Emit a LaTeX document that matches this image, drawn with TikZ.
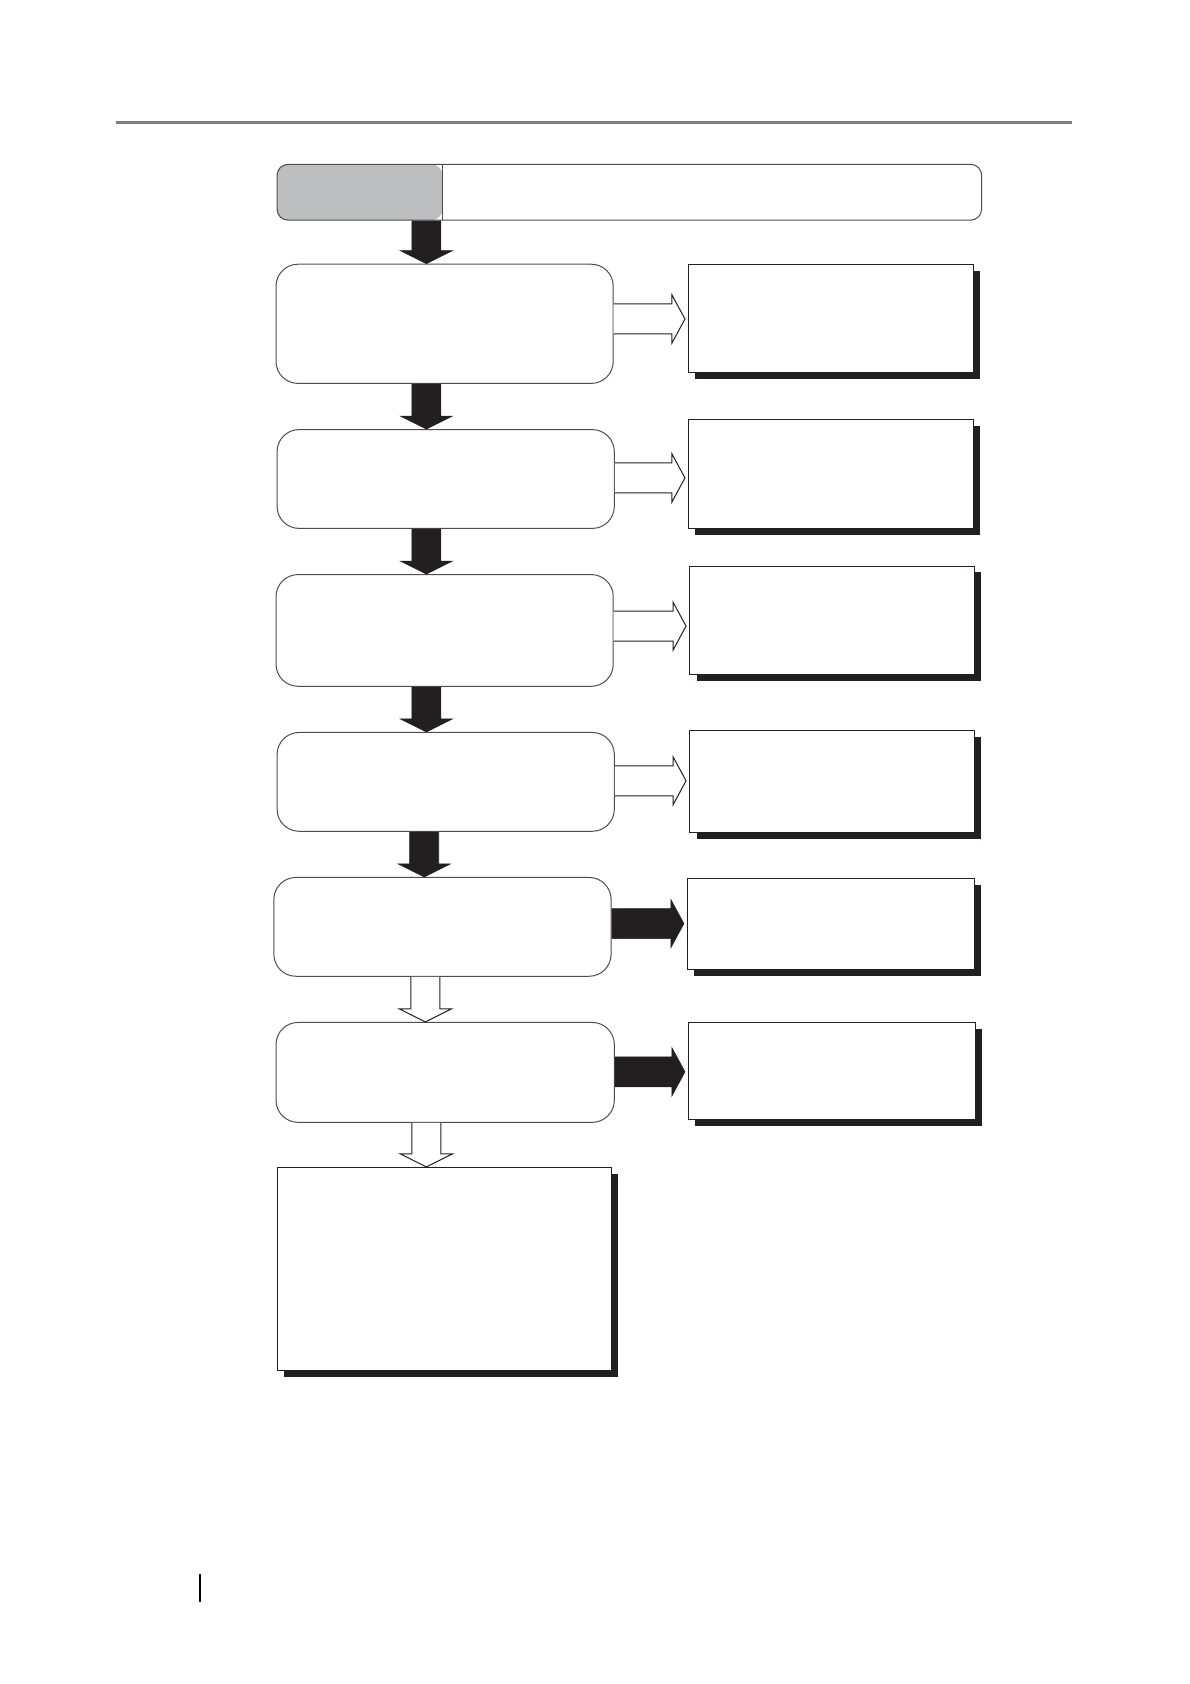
\documentclass[tikz,border=0pt]{standalone}
\usetikzlibrary{fit,calc,shadows}
\definecolor{hgray}{HTML}{BCBEC0}
\definecolor{ink}{HTML}{231F20}
\definecolor{rulegray}{HTML}{808080}
\begin{document}
\begin{tikzpicture}[x=1.07401pt,y=-1.07401pt,
 rbox/.style={draw=ink!80, line width=1pt, rounded corners=22pt, inner sep=0pt, fill=white},
 sbox/.style={draw=ink, line width=0.9pt, inner sep=0pt, fill=white, drop shadow={shadow xshift=7pt, shadow yshift=-6.5pt, fill=ink, opacity=1}},
 fatdown/.style={to path={let \p1=(\tikztostart), \p2=(\tikztotarget) in
   (\x1-14.5pt,\y1) -- (\x1-14.5pt,\y2+13pt) -- (\x1-26pt,\y2+13pt) -- (\x1,\y2) -- (\x1+26pt,\y2+13pt) -- (\x1+14.5pt,\y2+13pt) -- (\x1+14.5pt,\y1)}},
 fatright/.style={to path={let \p1=(\tikztostart), \p2=(\tikztotarget) in
   (\x1,\y1+15pt) -- (\x2-16pt,\y1+15pt) -- (\x2-16pt,\y1+24pt) -- (\x2-3pt,\y1) -- (\x2-16pt,\y1-24pt) -- (\x2-16pt,\y1-15pt) -- (\x1,\y1-15pt)}},
 solidarrow/.style={fill=ink, draw=ink, line width=0.6pt, line join=miter},
 hollowarrow/.style={fill=white, draw=ink, line width=1pt, line join=miter},
]
\useasboundingbox (0,0) rectangle (1108,1568);
% top rule and page marker
\draw[rulegray, line width=2.5pt] (108,114) -- (998,114);
\draw[black, line width=1.8pt] (186,1466) -- (186,1492);

% header
\node[draw=ink!80, line width=1pt, rounded corners=11pt, inner sep=0pt, fit={(258,153) (914,205)},
  path picture={\fill[hgray] (path picture bounding box.north west) rectangle ([xshift=165.4pt]path picture bounding box.south west);
  \draw[ink!80, line width=0.8pt] ([xshift=165.4pt]path picture bounding box.north west) -- ([xshift=165.4pt]path picture bounding box.south west);}] (H) {};

% left rounded boxes
\node[rbox, fit={(257,246) (571,357)}] (L1) {};
\node[rbox, fit={(258,400) (572,492)}] (L2) {};
\node[rbox, fit={(257,535) (571,639)}] (L3) {};
\node[rbox, fit={(258,682) (572,774)}] (L4) {};
\node[rbox, fit={(255,817) (569,909)}] (L5) {};
\node[rbox, fit={(257,952) (572,1045)}] (L6) {};

% right shadow boxes
\node[sbox, fit={(641,246) (906,347)}] (R1) {};
\node[sbox, fit={(641,391) (906,492)}] (R2) {};
\node[sbox, fit={(642,527) (907,628)}] (R3) {};
\node[sbox, fit={(642,680) (907,775)}] (R4) {};
\node[sbox, fit={(640,818) (907,903)}] (R5) {};
\node[sbox, fit={(641,952) (908,1042)}] (R6) {};
\node[sbox, fit={(258,1087) (569,1276)}] (B) {};

% down arrows
\draw[solidarrow] (397,0 |- H.south) to[fatdown] (397,0 |- L1.north);
\draw[solidarrow] (397,0 |- L1.south) to[fatdown] (397,0 |- L2.north);
\draw[solidarrow] (397,0 |- L2.south) to[fatdown] (397,0 |- L3.north);
\draw[solidarrow] (397,0 |- L3.south) to[fatdown] (397,0 |- L4.north);
\draw[solidarrow] (395,0 |- L4.south) to[fatdown] (395,0 |- L5.north);
\draw[hollowarrow] (396,0 |- L5.south) to[fatdown] (396,0 |- L6.north);
\draw[hollowarrow] (397,0 |- L6.south) to[fatdown] (397,0 |- B.north);

% right arrows
\draw[hollowarrow] (L1.east |- 0,297) to[fatright] (R1.west |- 0,297);
\draw[hollowarrow] (L2.east |- 0,445) to[fatright] (R2.west |- 0,445);
\draw[hollowarrow] (L3.east |- 0,583) to[fatright] (R3.west |- 0,583);
\draw[hollowarrow] (L4.east |- 0,727) to[fatright] (R4.west |- 0,727);
\draw[solidarrow] (L5.east |- 0,860) to[fatright] (R5.west |- 0,860);
\draw[solidarrow] (L6.east |- 0,998) to[fatright] (R6.west |- 0,998);
\end{tikzpicture}
\end{document}
